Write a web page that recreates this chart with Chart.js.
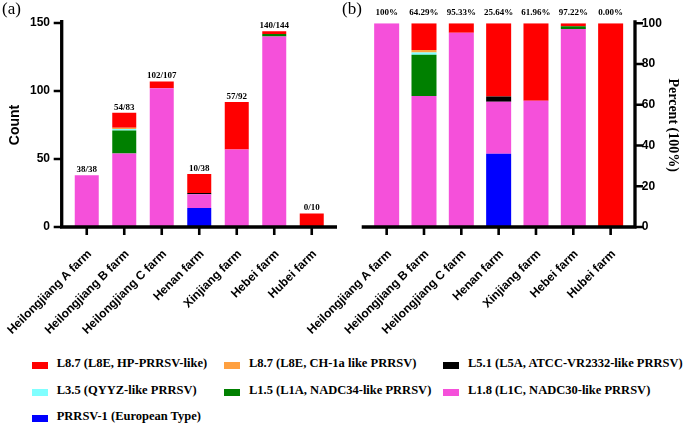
<!DOCTYPE html>
<html>
<head>
<meta charset="utf-8">
<script src="https://cdn.jsdelivr.net/npm/chart.js@4/dist/chart.umd.min.js"></script>
<style>
  body { margin: 0; background: #fff; }
  #wrap { position: relative; width: 685px; height: 426px; overflow: hidden; }
  canvas { position: absolute; top: 0; }
  .panel { position: absolute; top: -1px; font: 17px "Liberation Serif", serif; }
  .lg { position: absolute; font: bold 12.5px "Liberation Serif", serif; white-space: nowrap; }
  .lg i { position: absolute; width: 16px; height: 7px; top: 5px; }
  .lg span { position: absolute; left: 25px; top: -1px; }
</style>
</head>
<body>
<div id="wrap">
  <canvas id="countChart" width="340" height="345" style="left:0"></canvas>
  <canvas id="pctChart" width="395" height="345" style="left:290px"></canvas>
  <div class="panel" style="left:2px">(a)</div>
  <div class="panel" style="left:342px">(b)</div>
  <div id="legend"></div>
</div>
<script>
// farms on the x axis
const farms = ["Heilongjiang A farm", "Heilongjiang B farm", "Heilongjiang C farm",
  "Henan farm", "Xinjiang farm", "Hebei farm", "Hubei farm"];

// counts per lineage (stack order bottom -> top)
const prrsv1Count = [0, 0, 0, 14, 0, 0, 0];
const l18Count = [38, 54, 102, 10, 57, 140, 0];
const l15Count = [0, 17, 0, 0, 0, 2, 0];
const l35Count = [0, 1, 0, 0, 0, 0, 0];
const l87chCount = [0, 1, 0, 0, 0, 0, 0];
const l51Count = [0, 0, 0, 1, 0, 0, 0];
const l87hpCount = [0, 11, 5, 14, 35, 2, 10];

// percentages per lineage
const prrsv1Pct = [0, 0, 0, 35.90, 0, 0, 0];
const l18Pct = [100, 64.29, 95.33, 25.64, 61.96, 97.22, 0];
const l15Pct = [0, 20.24, 0, 0, 0, 1.39, 0];
const l35Pct = [0, 1.19, 0, 0, 0, 0, 0];
const l87chPct = [0, 1.19, 0, 0, 0, 0, 0];
const l51Pct = [0, 0, 0, 2.56, 0, 0, 0];
const l87hpPct = [0, 13.10, 4.67, 35.90, 38.04, 1.39, 100];

// labels over the bars
const countLabels = ["38/38", "54/83", "102/107", "10/38", "57/92", "140/144", "0/10"];
const pctLabels = ["100%", "64.29%", "95.33%", "25.64%", "61.96%", "97.22%", "0.00%"];

const countTicks = [0, 50, 100, 150];
const pctTicks = [0, 20, 40, 60, 80, 100];

const lineages = [
  { name: "PRRSV-1 (European Type)", color: "#0000ff", count: prrsv1Count, pct: prrsv1Pct },
  { name: "L1.8 (L1C, NADC30-like PRRSV)", color: "#f550da", count: l18Count, pct: l18Pct },
  { name: "L1.5 (L1A, NADC34-like PRRSV)", color: "#008000", count: l15Count, pct: l15Pct },
  { name: "L3.5 (QYYZ-like PRRSV)", color: "#80ffff", count: l35Count, pct: l35Pct },
  { name: "L8.7 (L8E, CH-1a like PRRSV)", color: "#ffa040", count: l87chCount, pct: l87chPct },
  { name: "L5.1 (L5A, ATCC-VR2332-like PRRSV)", color: "#000000", count: l51Count, pct: l51Pct },
  { name: "L8.7 (L8E, HP-PRRSV-like)", color: "#ff0000", count: l87hpCount, pct: l87hpPct }
];

const SANS = "'Liberation Sans', Arial, sans-serif";
const SERIF = "'Liberation Serif', 'Times New Roman', serif";

// thick GraphPad-like axes, drawn from the chart's own scales
const prismAxes = {
  id: "prismAxes",
  afterDatasetsDraw(chart, args, opts) {
    const ctx = chart.ctx;
    const x = chart.scales.x, y = chart.scales.y;
    const y0 = y.getPixelForValue(0);
    ctx.save();
    ctx.strokeStyle = "#000";
    ctx.lineCap = "butt";
    ctx.lineWidth = 3.3;
    ctx.beginPath();
    ctx.moveTo(opts.xFrom, y0);
    ctx.lineTo(opts.xTo, y0);
    ctx.moveTo(opts.yLineX, y0 + 1.6);
    ctx.lineTo(opts.yLineX, y.top - 3);
    ctx.stroke();
    ctx.lineWidth = 2.6;
    ctx.beginPath();
    opts.ticks.forEach(v => {
      const py = y.getPixelForValue(v);
      ctx.moveTo(opts.yLineX, py);
      ctx.lineTo(opts.yLineX + opts.tickDir * 8, py);
    });
    x.ticks.forEach((t, i) => {
      const px = x.getPixelForTick(i);
      ctx.moveTo(px, y0);
      ctx.lineTo(px, y0 + 8);
    });
    ctx.stroke();
    ctx.restore();
  }
};

// text above each bar
const barLabels = {
  id: "barLabels",
  afterDatasetsDraw(chart, args, opts) {
    const ctx = chart.ctx;
    const x = chart.scales.x, y = chart.scales.y;
    ctx.save();
    ctx.font = "bold 9px " + SERIF;
    ctx.fillStyle = "#000";
    ctx.textAlign = "center";
    opts.labels.forEach((txt, i) => {
      const px = x.getPixelForValue(i);
      if (opts.fixedY) {
        ctx.textBaseline = "middle";
        ctx.fillText(txt, px, opts.fixedY);
      } else {
        let total = 0;
        chart.data.datasets.forEach(ds => { total += ds.data[i]; });
        ctx.textBaseline = "bottom";
        ctx.fillText(txt, px, y.getPixelForValue(total) - 1);
      }
    });
    ctx.restore();
  }
};

function makeChart(id, key, cfg) {
  return new Chart(document.getElementById(id), {
    type: "bar",
    data: {
      labels: farms,
      datasets: lineages.map(l => ({
        label: l.name,
        data: l[key],
        backgroundColor: l.color,
        borderWidth: 0,
        categoryPercentage: 1,
        barPercentage: cfg.barPct
      }))
    },
    options: {
      responsive: false,
      animation: false,
      layout: { padding: cfg.padding },
      plugins: {
        legend: { display: false },
        tooltip: { enabled: false },
        prismAxes: cfg.axes,
        barLabels: cfg.barLabels
      },
      scales: {
        x: {
          stacked: true,
          grid: { display: false },
          border: { display: false },
          ticks: {
            color: "#000",
            font: { family: SANS, size: 12, weight: "bold" },
            minRotation: 45, maxRotation: 45,
            padding: 12,
            labelOffset: 3,
            autoSkip: false
          },
          // fixed height, and no extra side padding for the slanted labels
          afterFit: s => { s.height = 345 - 227; s.paddingLeft = 0; s.paddingRight = 0; }
        },
        y: {
          stacked: true,
          position: cfg.yPos,
          min: 0, max: cfg.max,
          grid: { display: false, drawTicks: false },
          border: { display: false },
          afterBuildTicks: s => { s.ticks = cfg.ticks.map(v => ({ value: v })); },
          ticks: {
            color: "#000",
            font: { family: SANS, size: 12, weight: "bold" },
            padding: cfg.tickPad
          },
          title: cfg.title,
          afterFit: s => { s.width = cfg.yWidth; s.paddingTop = 0; s.paddingBottom = 0; }
        }
      }
    },
    plugins: [prismAxes, barLabels]
  });
}

makeChart("countChart", "count", {
  barPct: 0.64,
  padding: { top: 23, right: 9.5, left: 0, bottom: 0 },
  yPos: "left",
  max: 150,
  ticks: countTicks,
  tickPad: 18,
  yWidth: 68,
  title: { display: true, text: "Count", color: "#000", padding: { top: 7, bottom: 0 },
    font: { family: SANS, size: 14, weight: "bold" } },
  axes: { xFrom: 60, xTo: 337, yLineX: 61.7, tickDir: -1, ticks: countTicks },
  barLabels: { labels: countLabels }
});

// this canvas starts 50px left of the panel so rotated labels are not clipped
makeChart("pctChart", "pct", {
  barPct: 0.67,
  padding: { top: 23.3, right: 0, left: 78, bottom: 0 },
  yPos: "right",
  max: 100,
  ticks: pctTicks,
  tickPad: 12.5,
  yWidth: 55.7,
  title: { display: true, text: "Percent (100%)", color: "#000", padding: { top: 4, bottom: 0 },
    font: { family: SERIF, size: 14, weight: "bold" } },
  axes: { xFrom: 71.7, xTo: 346.6, yLineX: 345, tickDir: 1, ticks: pctTicks },
  barLabels: { labels: pctLabels, fixedY: 13 }
});

// legend, three columns in the original's reading order
const legendOrder = [6, 4, 5, 3, 2, 1, 0];
const colX = [31.7, 224, 443];
const rowY = [357, 384, 410];
const legend = document.getElementById("legend");
legendOrder.forEach((li, k) => {
  const l = lineages[li];
  const d = document.createElement("div");
  d.className = "lg";
  d.style.left = colX[k % 3] + "px";
  d.style.top = rowY[Math.floor(k / 3)] + "px";
  d.innerHTML = '<i style="background:' + l.color + '"></i><span>' + l.name + "</span>";
  legend.appendChild(d);
});
</script>
</body>
</html>
